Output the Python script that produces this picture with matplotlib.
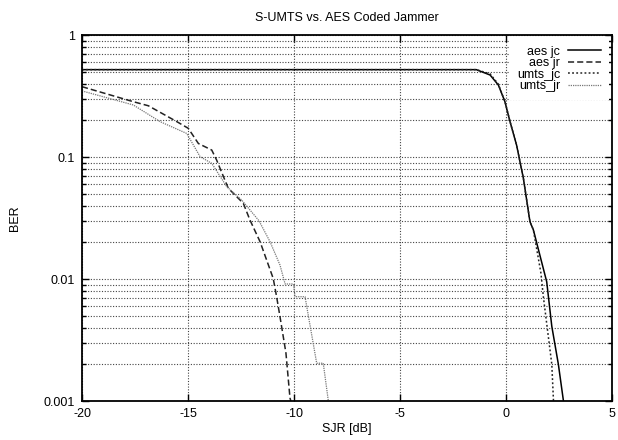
import numpy as np
import matplotlib
matplotlib.use("Agg")
import matplotlib.pyplot as plt
from matplotlib.ticker import LogLocator, FixedLocator, FuncFormatter, NullFormatter

# curves (SJR in dB, BER)
aes_jc_x = [-20, -5, -1.4, -0.75, -0.36, -0.05, 0.19, 0.5, 0.82, 1.13, 1.29, 1.92, 2.16, 2.47, 2.71]
aes_jc_y = [0.52, 0.52, 0.52, 0.47, 0.389, 0.284, 0.195, 0.125, 0.0669, 0.0295, 0.0253, 0.0095, 0.0041, 0.002, 0.001]

umts_jc_x = [-20, -5, -1.4, -0.75, -0.36, -0.05, 0.19, 0.5, 0.82, 1.13, 1.29, 1.65, 1.76, 2.16, 2.24]
umts_jc_y = [0.52, 0.52, 0.52, 0.48, 0.395, 0.284, 0.195, 0.125, 0.0669, 0.0295, 0.0253, 0.0111, 0.0072, 0.002, 0.001]

aes_jr_x = [-20, -17.58, -16.87, -15.53, -14.99, -14.51, -13.88, -13.65, -13.10, -12.39, -12.08,
            -11.6, -10.98, -10.82, -10.66, -10.38, -10.19, -10.15]
aes_jr_y = [0.377, 0.284, 0.263, 0.195, 0.172, 0.129, 0.114, 0.0944, 0.0554, 0.0417, 0.0305,
            0.0202, 0.0101, 0.00716, 0.0049, 0.00247, 0.00106, 0.001]

umts_jr_x = [-20, -17.58, -16.32, -15.06, -14.43, -13.88, -13.17, -12.47, -11.65, -11.13, -10.66,
             -10.42, -10.03, -9.95, -9.48, -8.93, -8.62, -8.38]
umts_jr_y = [0.348, 0.267, 0.195, 0.156, 0.1006, 0.0887, 0.0571, 0.0444, 0.0300, 0.0202, 0.013,
             0.0091, 0.0091, 0.00716, 0.00716, 0.00204, 0.00204, 0.001]

x_ticks = [-20, -15, -10, -5, 0, 5]
y_ticks = [0.001, 0.01, 0.1, 1]
y_labels = ["0.001", "0.01", "0.1", "1"]


def main():
    plt.rcParams['font.family'] = ['Liberation Sans', 'DejaVu Sans']
    plt.rcParams['font.size'] = 9
    plt.rcParams['axes.unicode_minus'] = False

    fig = plt.figure(figsize=(6.18, 4.4), dpi=100)
    ax = fig.add_axes([82 / 618, 39 / 440, 530 / 618, 366 / 440])

    ax.plot(aes_jc_x, aes_jc_y, color="black", lw=1.1, ls="-", label="aes jc")
    ax.plot(aes_jr_x, aes_jr_y, color="#222222", lw=1.1, ls=(0, (4, 2)), label="aes jr")
    ax.plot(umts_jc_x, umts_jc_y, color="#222222", lw=1.1, ls=(0, (1.2, 1.5)), label="umts_jc")
    ax.plot(umts_jr_x, umts_jr_y, color="#777777", lw=0.9, ls=(0, (1, 0.8)), label="umts_jr")

    ax.set_yscale("log")
    ax.set_xlim(-20, 5)
    ax.set_ylim(0.001, 1)

    ax.xaxis.set_major_locator(FixedLocator(x_ticks))
    ax.yaxis.set_major_locator(FixedLocator(y_ticks))
    ax.yaxis.set_major_formatter(FuncFormatter(lambda v, p: y_labels[y_ticks.index(v)] if v in y_ticks else ""))
    ax.yaxis.set_minor_locator(LogLocator(base=10, subs=np.arange(2, 10)))
    ax.yaxis.set_minor_formatter(NullFormatter())

    ax.grid(True, which="both", axis="y", color="#444444", ls=(0, (1, 1.5)), lw=0.8)
    ax.grid(True, which="major", axis="x", color="#444444", ls=(0, (1, 1.5)), lw=0.8)

    ax.tick_params(which="both", direction="in", top=True, right=True, labelsize=9)
    ax.tick_params(which="major", length=5, width=1, pad=5)
    ax.tick_params(which="minor", length=3, width=1)
    for s in ax.spines.values():
        s.set_linewidth(1.3)

    ax.set_title("S-UMTS vs. AES Coded Jammer", fontsize=9, pad=10)
    ax.set_xlabel("SJR [dB]", fontsize=9, labelpad=2)
    ax.set_ylabel("BER", fontsize=9, labelpad=16)

    leg = ax.legend(loc="upper right", frameon=True, markerfirst=False, fontsize=9,
                    handlelength=2.7, labelspacing=-0.04, borderaxespad=0.25,
                    handletextpad=0.6, borderpad=0.6, fancybox=False,
                    facecolor="white", edgecolor="none", framealpha=1)
    leg.get_frame().set_linewidth(0)

    fig.savefig("out.png", dpi=100)


if __name__ == '__main__':
    main()
